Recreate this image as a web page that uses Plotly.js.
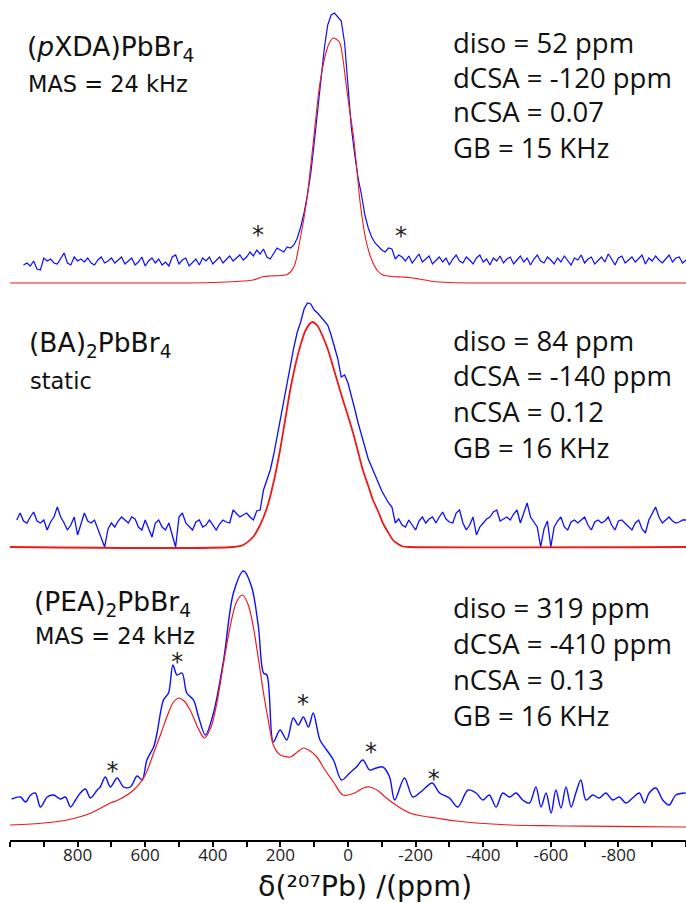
<!DOCTYPE html>
<html>
<head>
<meta charset="utf-8">
<script src="https://cdn.plot.ly/plotly-3.0.1.min.js"></script>
<style>html,body{margin:0;padding:0;background:#fff;}#chart{width:686px;height:903px;}</style>
</head>
<body>
<div id="chart"></div>
<script>
// ---------- DATA ----------
// Panel 1: (pXDA)PbBr4, experimental (blue) on a 10 ppm grid from 960 to -1000 ppm
const pxdaExpStart = 960;
const pxdaExpStep = -10;
const pxdaExp = [
  18,20,17,22,14,13,25,22,24,20,
  19,24,30,20,18,26,22,24,21,25,
  20,18,23,26,20,22,25,20,23,26,
  19,22,25,18,21,26,17,22,25,20,
  24,18,21,17,26,28,19,23,25,17,
  21,24,18,25,22,26,19,23,26,20,
  24,27,22,25,28,23,26,31,27,33,
  29,34,26,24,30,35,33,31,36,35,
  38,45,56,70,88,110,140,170,205,235,
  258,268,270,266,262,240,195,155,128,105,
  88,68,55,46,40,36,33,31,35,34,
  24,28,26,22,27,20,25,29,21,24,
  27,19,23,26,21,25,18,24,28,22,
  20,26,23,19,25,28,21,24,18,25,
  22,27,20,24,26,19,23,27,21,25,
  18,24,28,22,20,26,23,19,25,21,
  27,22,18,25,23,28,20,24,26,19,
  22,26,21,29,24,18,25,27,20,23,
  26,21,24,28,19,25,22,27,23,20,
  24,28,21,25,26,20,23
];
// Panel 1 simulated (red)
const pxdaSimPpm = [1000,500,400,330,280,250,230,200,180,160,142,122,103,83,63,52,44,35,24,15,6,-5,-15,-25,-35,-45,-53,-63,-74,-88,-103,-130,-160,-183,-210,-251,-300,-400,-1000];
const pxdaSim    = [0,0,0.5,1.5,3,6.5,7,7.5,8.5,16,43,83,140,200,233,242,245,244,240,224,200,172,150,118,83,58,43,30,20,12,8,6.5,6,5.5,4,1.5,0.5,0,0];

// Panel 2: (BA)2PbBr4, experimental on a 10 ppm grid from 980 to -1000 ppm
const baExpStart = 980;
const baExpStep = -10;
const baExp = [
  27,34,26,24,30,35,26,24,27,17,
  25,30,40,30,24,17,22,30,12,22,
  34,26,24,27,18,10,0,18,24,20,
  26,30,27,24,30,28,20,17,27,18,
  10,24,27,20,17,24,12,0,30,34,
  24,20,17,25,27,20,22,27,22,17,
  23,27,25,24,37,33,30,32,34,30,
  27,36,37,57,66,77,92,110,130,150,
  168,185,200,215,225,238,244,243,237,234,
  230,227,222,212,200,188,170,172,164,152,
  138,124,112,100,88,80,72,64,56,50,
  44,40,24,28,22,20,27,22,17,26,
  30,24,28,30,24,30,35,28,25,24,
  34,37,24,17,22,30,12,20,24,28,
  30,35,37,26,28,30,27,33,37,24,
  34,44,30,25,20,0,18,26,0,20,
  26,30,20,17,25,27,24,27,30,22,
  17,25,27,24,26,30,22,17,26,27,
  24,20,17,24,27,18,14,27,33,40,
  30,24,27,30,26,24,25,27,27
];
// Panel 2 simulated
const baSimPpm = [1000,340,310,281,260,239,220,201,186,171,157,142,125,106,90,74,58,44,30,15,0,-15,-30,-44,-60,-74,-90,-103,-118,-133,-148,-162,-180,-1000];
const baSim    = [0,0,2,10,22,40,65,97,127,157,180,200,217,225,221,210,196,180,164,147,131,114,95,77,61,47,35,24,15,7,3,0.5,0,0];

// Panel 3: (PEA)2PbBr4, experimental
const peaExpPpm = [995,969,954,939,925,910,890,871,851,836,821,806,792,777,762,742,733,718,703,683,664,644,624,609,595,575,565,546,531,518,506,491,477,457,442,422,398,368,339,309,285,265,250,240,221,201,181,162,147,132,117,103,83,63,43,19,-5,-25,-44,-64,-84,-103,-123,-138,-167,-192,-222,-249,-271,-300,-325,-355,-379,-399,-418,-438,-458,-478,-497,-517,-537,-556,-571,-586,-601,-615,-630,-645,-660,-674,-689,-704,-724,-743,-763,-783,-803,-822,-842,-862,-877,-891,-911,-931,-950,-970,-999];
const peaExp    = [28,30,25,32,34,20,30,32,28,30,20,27,34,38,29,37,40,50,40,49,40,40,51,47,67,80,94,127,134,162,152,154,134,127,110,92,114,167,234,256,240,200,154,152,85,97,87,109,102,110,100,114,87,77,67,47,54,60,67,57,59,60,50,27,49,30,37,44,34,29,20,37,34,27,32,20,34,30,34,27,24,40,20,34,14,37,19,40,20,34,47,27,32,29,34,27,30,24,29,34,24,34,39,27,22,32,34];
// Panel 3 simulated
const peaSimPpm = [1000,900,831,760,703,680,634,600,575,555,536,518,501,485,467,445,425,405,388,370,349,330,312,295,280,265,250,235,221,200,171,150,132,112,92,70,43,15,-20,-45,-64,-90,-110,-133,-160,-183,-220,-260,-320,-378,-480,-576,-700,-850,-1000];
const peaSim    = [2,4,7,14,24,27,37,52,74,92,110,124,129,126,117,100,89,100,124,160,200,225,232,222,200,168,134,105,82,72,70,75,79,76,70,58,45,32,34,39,40,36,30,24,18,14,11,9,6,4,2,1.3,0.8,0.3,0];

// Spinning-sideband asterisks (ppm, intensity in the panel's units)
const pxdaStarPpm = [266,-157];
const pxdaStarInt = [46,45];
const peaStarPpm = [697,505,133,-68,-254];
const peaStarInt = [54,163,121,73,46];

// Labels
const sampleNames = ['(<i>p</i>XDA)PbBr<sub>4</sub>', '(BA)<sub>2</sub>PbBr<sub>4</sub>', '(PEA)<sub>2</sub>PbBr<sub>4</sub>'];
const conditions = ['MAS = 24 kHz', 'static', 'MAS = 24 kHz'];
const params = [
  ['diso = 52 ppm', 'dCSA = -120 ppm', 'nCSA = 0.07', 'GB = 15 KHz'],
  ['diso = 84 ppm', 'dCSA = -140 ppm', 'nCSA = 0.12', 'GB = 16 KHz'],
  ['diso = 319 ppm', 'dCSA = -410 ppm', 'nCSA = 0.13', 'GB = 16 KHz']
];
const xTitle = 'δ(²⁰⁷Pb) /(ppm)';
const tickVals = [800,600,400,200,0,-200,-400,-600,-800];
const tickText = ['800','600','400','200','0','-200','-400','-600','-800'];

// ---------- STYLE / LAYOUT ----------
const BLUE = '#0d0dff';
const RED = '#ee1a1a';
const FONT = 'Open Sans, DejaVu Sans, sans-serif';
const FONT_WIDE = 'DejaVu Sans, Verdana, sans-serif';
const W = 686, H = 903, ML = 10, MR = 0, MT = 0, MB = 63;
const PW = W - ML - MR, PH = H - MT - MB;
const px2paperX = p => (p - ML) / PW;
const px2paperY = p => 1 - (p - MT) / PH;

const starStyle = {family: FONT_WIDE, size: 24, color: '#222'};
const traces = [
  {x0: pxdaExpStart, dx: pxdaExpStep, y: pxdaExp, yaxis: 'y', type: 'scatter', mode: 'lines', line: {color: BLUE, width: 1.2}},
  {x: pxdaSimPpm, y: pxdaSim, yaxis: 'y', type: 'scatter', mode: 'lines', line: {color: RED, width: 1.1, shape: 'spline', smoothing: 0.8}},
  {x0: baExpStart, dx: baExpStep, y: baExp, yaxis: 'y2', type: 'scatter', mode: 'lines', line: {color: BLUE, width: 1.3}},
  {x: baSimPpm, y: baSim, yaxis: 'y2', type: 'scatter', mode: 'lines', line: {color: RED, width: 1.8, shape: 'spline', smoothing: 0.8}},
  {x: peaExpPpm, y: peaExp, yaxis: 'y3', type: 'scatter', mode: 'lines', line: {color: BLUE, width: 1.4, shape: 'spline', smoothing: 0.9}},
  {x: peaSimPpm, y: peaSim, yaxis: 'y3', type: 'scatter', mode: 'lines', line: {color: RED, width: 1.2, shape: 'spline', smoothing: 0.8}},
  {x: pxdaStarPpm, y: pxdaStarInt, yaxis: 'y', type: 'scatter', mode: 'text', text: pxdaStarPpm.map(() => '*'), textposition: 'middle center', textfont: starStyle, cliponaxis: false},
  {x: peaStarPpm, y: peaStarInt, yaxis: 'y3', type: 'scatter', mode: 'text', text: peaStarPpm.map(() => '*'), textposition: 'middle center', textfont: starStyle, cliponaxis: false}
];

const annotations = [];
// sample names and conditions: [x px, name y px, condition y px]
const namePos = [[25, 48, 84], [27, 344, 381], [32, 603, 636]];
const paramPos = [[451, [42, 77, 112, 147]], [451, [340, 376, 411, 447]], [451, [607, 643, 679, 715]]];
for (let i = 0; i < 3; i++) {
  annotations.push({xref: 'paper', yref: 'paper', x: px2paperX(namePos[i][0]), y: px2paperY(namePos[i][1]), xanchor: 'left', yanchor: 'middle', showarrow: false, text: sampleNames[i], font: {family: FONT_WIDE, size: 26.5, color: '#111'}});
  annotations.push({xref: 'paper', yref: 'paper', x: px2paperX(namePos[i][0] + 1), y: px2paperY(namePos[i][2]), xanchor: 'left', yanchor: 'middle', showarrow: false, text: conditions[i], font: {family: FONT_WIDE, size: 22.5, color: '#111'}});
  for (let j = 0; j < 4; j++) {
    annotations.push({xref: 'paper', yref: 'paper', x: px2paperX(paramPos[i][0]), y: px2paperY(paramPos[i][1][j]), xanchor: 'left', yanchor: 'middle', showarrow: false, text: params[i][j], font: {family: FONT, size: 27.5, color: '#111'}});
  }
}
// x-axis title
annotations.push({xref: 'paper', yref: 'paper', x: px2paperX(365), y: px2paperY(886), xanchor: 'center', yanchor: 'middle', showarrow: false, text: xTitle, font: {family: FONT_WIDE, size: 28.5, color: '#111'}});

const hiddenY = r => ({range: r, visible: false, showgrid: false, zeroline: false, fixedrange: true});
const layout = {
  width: W, height: H,
  margin: {l: ML, r: MR, t: MT, b: MB, pad: 0},
  paper_bgcolor: '#fff', plot_bgcolor: '#fff',
  showlegend: false,
  font: {family: FONT, color: '#111'},
  xaxis: {
    range: [1000, -1000], showgrid: false, zeroline: false,
    showline: true, linecolor: '#000', linewidth: 2,
    ticks: 'outside', ticklen: 5, tickwidth: 2, tickcolor: '#000',
    tickmode: 'array', tickvals: tickVals, ticktext: tickText,
    ticklabelstandoff: -6,
    minor: {dtick: 100, tick0: 0, ticks: 'outside', ticklen: 5, tickwidth: 2, tickcolor: '#000', showgrid: false},
    tickfont: {family: FONT, size: 17, color: '#222'},
    automargin: false
  },
  yaxis: hiddenY([-557, 283]),
  yaxis2: Object.assign(hiddenY([-293, 547]), {overlaying: 'y'}),
  yaxis3: Object.assign(hiddenY([-13, 827]), {overlaying: 'y'}),
  annotations: annotations
};

Plotly.newPlot('chart', traces, layout, {staticPlot: true, displayModeBar: false});
</script>
</body>
</html>
